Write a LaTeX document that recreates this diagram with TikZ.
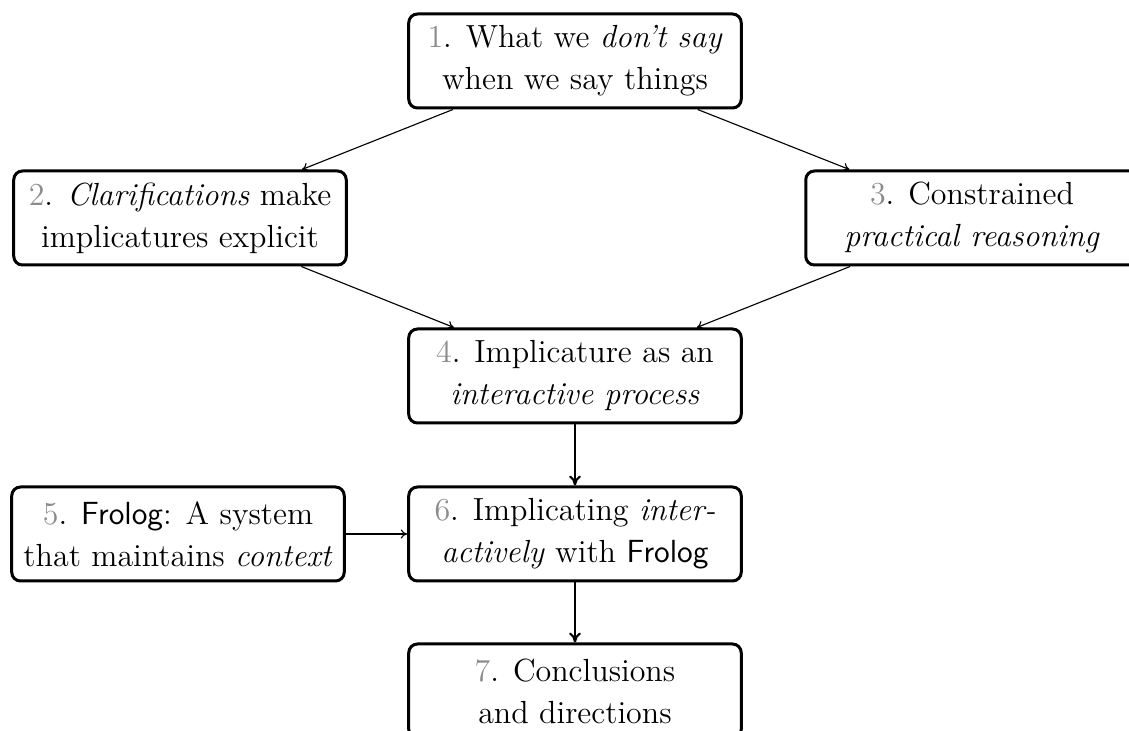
\documentclass[tikz,border=0pt]{standalone}
\usetikzlibrary{arrows.meta}
\definecolor{numgray}{gray}{0.55}
\newcommand{\nb}[1]{\textcolor{numgray}{#1}.}
\begin{document}
\begin{tikzpicture}[x=0.4pt,y=-0.4pt,
  box/.style={draw, line width=1.2pt, rounded corners=3.5pt, align=center,
    minimum width=133pt, minimum height=37.6pt, inner sep=0pt,
    font=\fontsize{12.8}{16.8}\selectfont},
  thinarrow/.style={-{To[length=2.6pt,width=3.6pt]}, line width=0.45pt},
  thickarrow/.style={-{To[length=4pt,width=4.8pt]}, line width=0.85pt}]
\useasboundingbox (0,0) rectangle (1129,731);
\node[box] (n1) at (575,61) {\nb{1} What we \emph{don't say}\\when we say things};
\node[box] (n2) at (180,218) {\nb{2} \emph{Clarifications} make\\implicatures explicit};
\node[box] (n3) at (972,218) {\nb{3} Constrained\\\emph{practical reasoning}};
\node[box] (n4) at (575,376) {\nb{4} Implicature as an\\\emph{interactive process}};
\node[box] (n5) at (178,534) {\nb{5} \textsf{Frolog}: A system\\that maintains \emph{context}};
\node[box] (n6) at (575,534) {\nb{6} Implicating \emph{inter-}\\\emph{actively} with \textsf{Frolog}};
\node[box] (n7) at (575,691) {\nb{7} Conclusions\\and directions};
\draw[thinarrow] (n1) -- (n2);
\draw[thinarrow] (n1) -- (n3);
\draw[thinarrow] (n2) -- (n4);
\draw[thinarrow] (n3) -- (n4);
\draw[thickarrow] (n4) -- (n6);
\draw[thinarrow] (n5) -- (n6);
\draw[thickarrow] (n6) -- (n7);
\end{tikzpicture}
\end{document}
